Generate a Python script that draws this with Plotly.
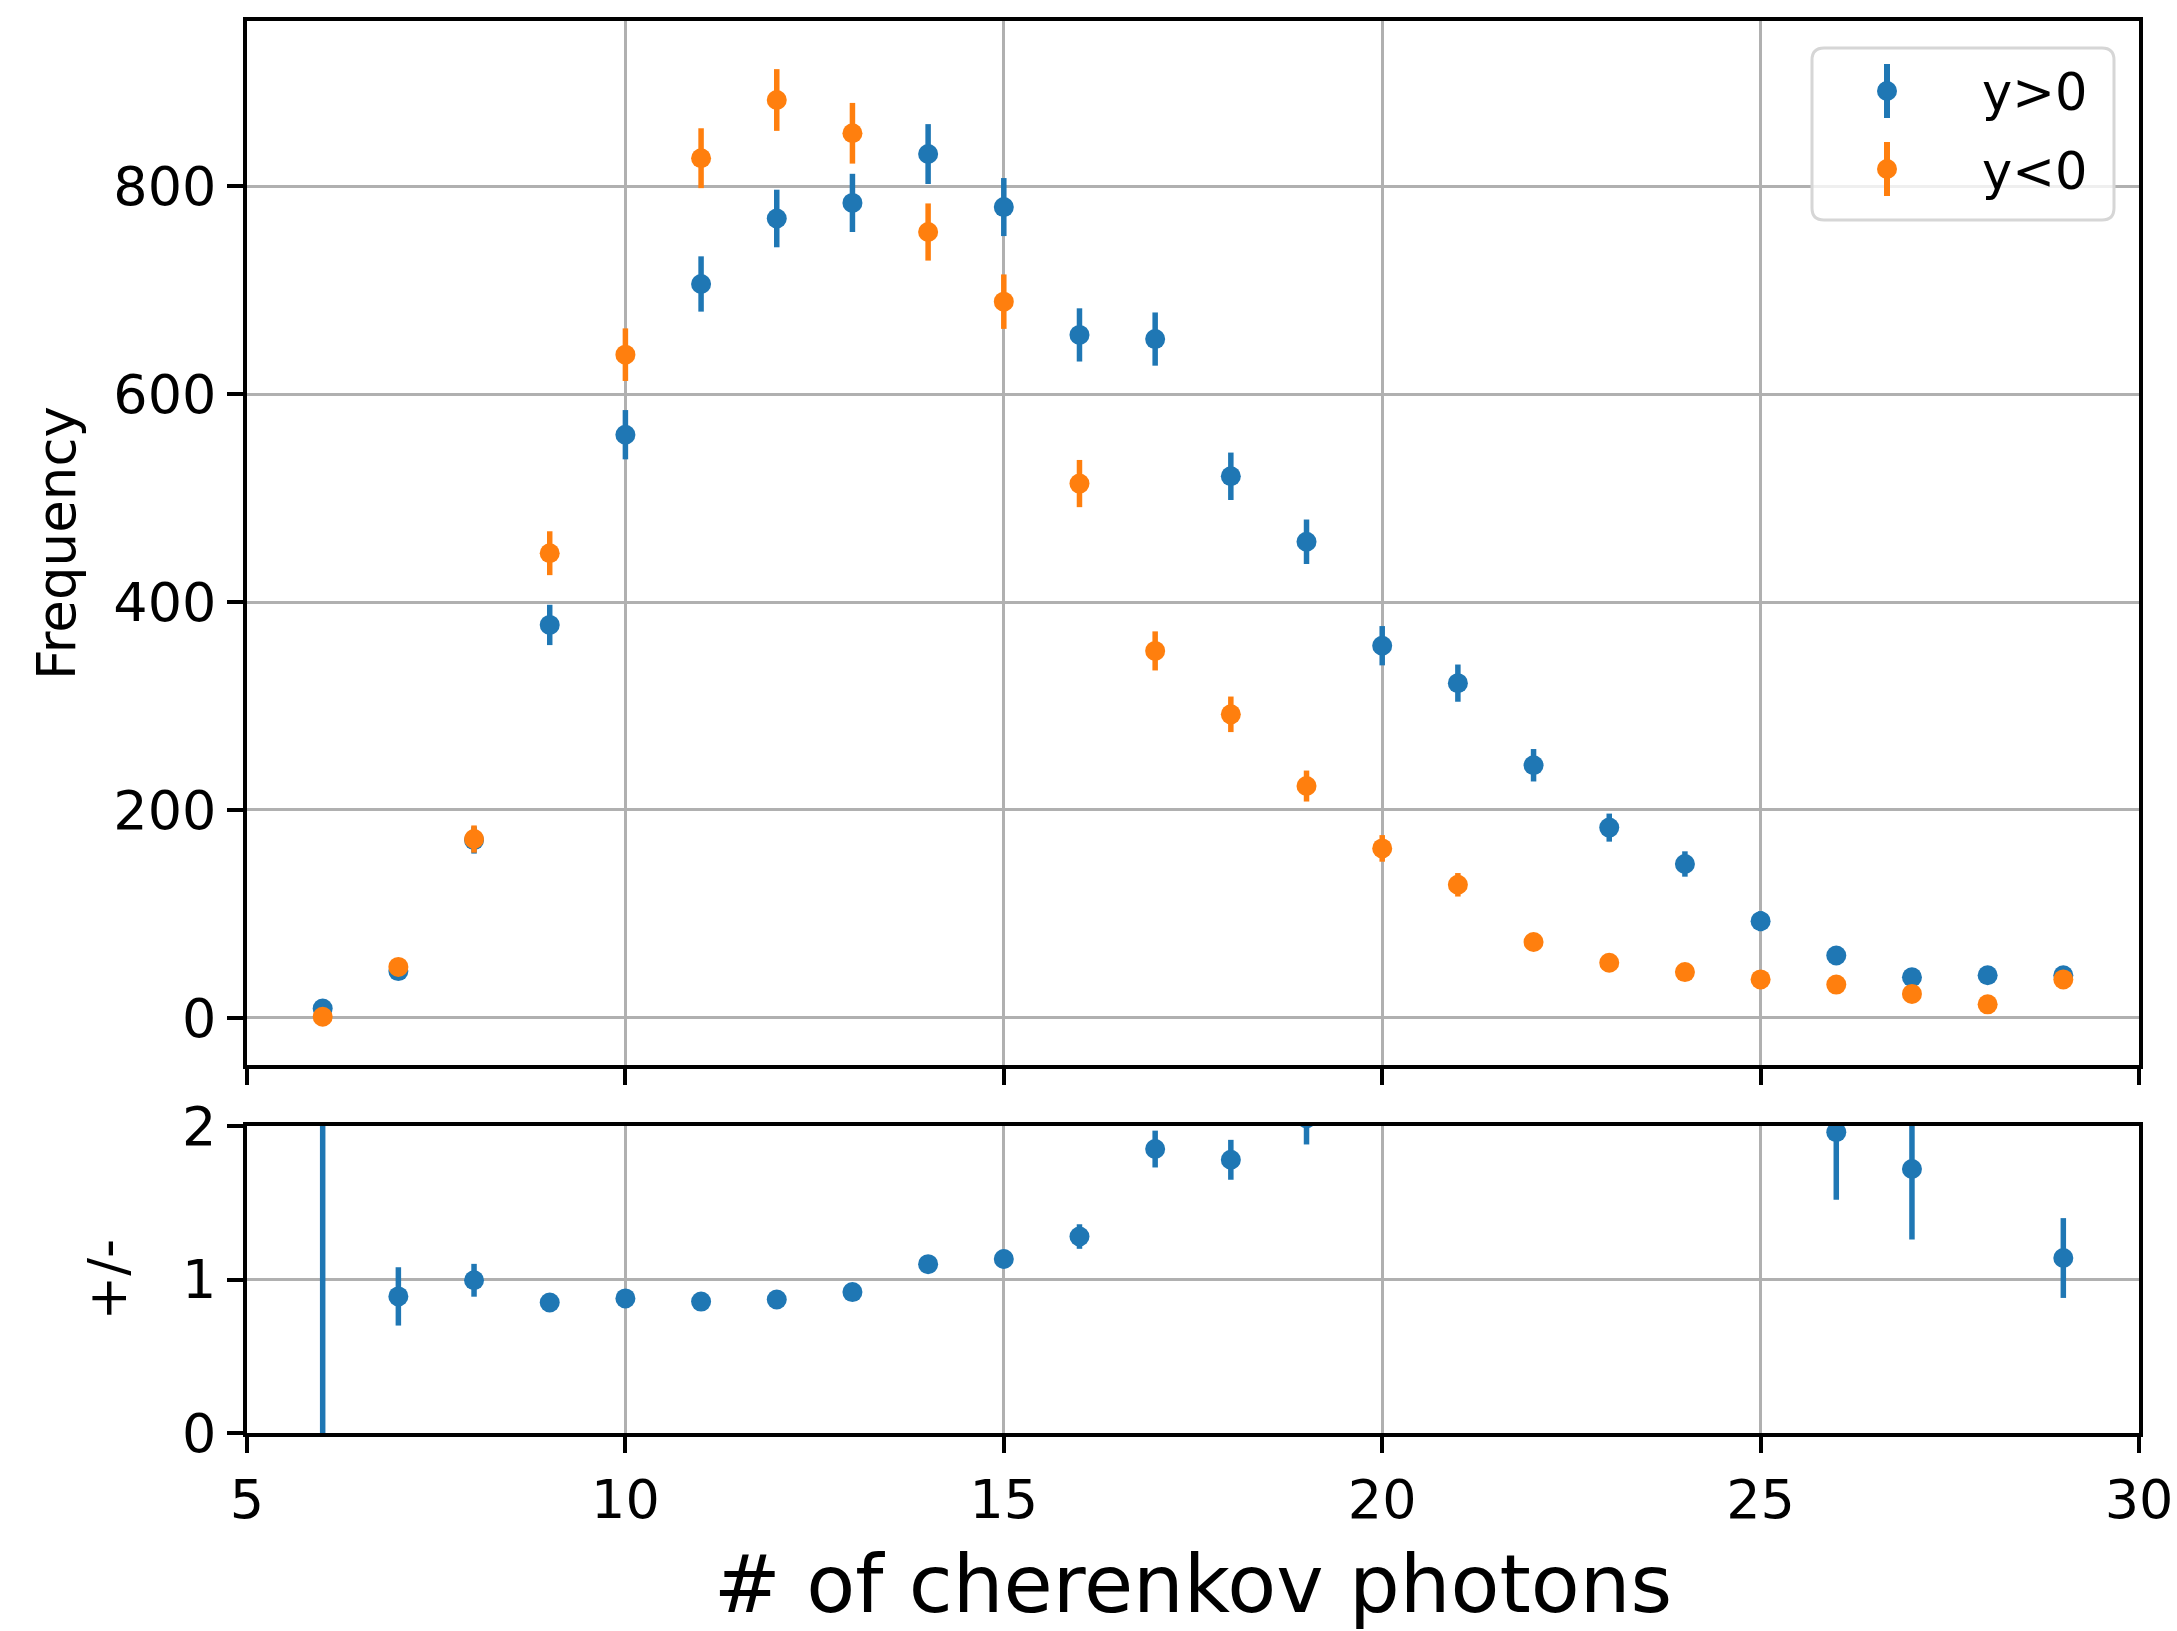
import plotly.graph_objects as go

# ---- data ----
n_photons = [6, 7, 8, 9, 10, 11, 12, 13, 14, 15, 16, 17, 18, 19, 20, 21, 22, 23, 24, 25, 26, 27, 28, 29]

freq_pos = [9, 45, 171, 378, 561, 706, 769, 784, 831, 780, 657, 653, 521, 458, 358, 322, 243, 183, 148, 93, 60, 39, 41, 41]
err_pos = [3, 6.7, 13, 19.4, 23.7, 26.6, 27.7, 28, 28.8, 27.9, 25.6, 25.6, 22.8, 21.4, 18.9, 17.9, 15.6, 13.5, 12.2, 9.6, 7.7, 6.2, 6.4, 6.4]

freq_neg = [1, 49, 172, 447, 638, 827, 883, 851, 756, 689, 514, 353, 292, 223, 163, 128, 73, 53, 44, 37, 32, 23, 13, 37]
err_neg = [1, 7, 13.1, 21.1, 25.3, 28.8, 29.7, 29.2, 27.5, 26.2, 22.7, 18.8, 17.1, 14.9, 12.8, 11.3, 8.5, 7.3, 6.6, 6.1, 5.7, 4.8, 3.6, 6.1]

ratio = [9.0, 0.89, 0.995, 0.85, 0.877, 0.856, 0.87, 0.918, 1.10, 1.134, 1.28, 1.85, 1.78, 2.05, 2.2, 2.5, 3.3, 3.45, 3.4, 2.5, 1.96, 1.72, 3.15, 1.14]
ratio_err = [9.5, 0.19, 0.107, 0.05, 0.05, 0.04, 0.04, 0.04, 0.05, 0.06, 0.08, 0.12, 0.13, 0.17, 0.20, 0.26, 0.43, 0.54, 0.58, 0.45, 0.44, 0.46, 1.0, 0.26]

labels = ["y>0", "y<0"]
x_ticks = [5, 10, 15, 20, 25, 30]
freq_ticks = [0, 200, 400, 600, 800]
ratio_ticks = [0, 1, 2]

BLUE = "#1f77b4"
ORANGE = "#ff7f0e"
FONT = "DejaVu Sans"

# figure geometry (pixels)
W, H = 2177, 1631
L, R, T, B = 247, 38, 21, 198
PW, PH = W - L - R, H - T - B

def px_x(p):  # pixel -> paper x
    return (p - L) / PW

def px_y(p):  # pixel -> paper y
    return (H - B - p) / PH

fig = go.Figure()

def err(vals, color):
    return dict(type="data", array=vals, visible=True, color=color, thickness=5.5, width=0)

fig.add_trace(go.Scatter(x=n_photons, y=freq_pos, mode="markers", name=labels[0], legendgroup="a",
                         marker=dict(color=BLUE, size=20), error_y=err(err_pos, BLUE),
                         xaxis="x", yaxis="y"))
fig.add_trace(go.Scatter(x=n_photons, y=freq_neg, mode="markers", name=labels[1], legendgroup="b",
                         marker=dict(color=ORANGE, size=20), error_y=err(err_neg, ORANGE),
                         xaxis="x", yaxis="y"))
fig.add_trace(go.Scatter(x=n_photons, y=ratio, mode="markers", showlegend=False,
                         marker=dict(color=BLUE, size=20), error_y=err(ratio_err, BLUE),
                         xaxis="x2", yaxis="y2", cliponaxis=True))

axis_common = dict(showline=True, linecolor="black", linewidth=3.5, mirror=True,
                   ticks="outside", ticklen=16, tickwidth=3.5, tickcolor="black",
                   showgrid=True, gridcolor="#b0b0b0", gridwidth=2.7, zeroline=False,
                   automargin=False,
                   tickfont=dict(family=FONT, size=54, color="black"))

# legend frame (rounded) and legend symbol decorations
bx0, bx1, by0, by1, rad = 1812, 2114, 48, 220, 12
X = px_x
Y = px_y
frame_path = (
    f"M {X(bx0 + rad)},{Y(by0)} L {X(bx1 - rad)},{Y(by0)} "
    f"Q {X(bx1)},{Y(by0)} {X(bx1)},{Y(by0 + rad)} "
    f"L {X(bx1)},{Y(by1 - rad)} Q {X(bx1)},{Y(by1)} {X(bx1 - rad)},{Y(by1)} "
    f"L {X(bx0 + rad)},{Y(by1)} Q {X(bx0)},{Y(by1)} {X(bx0)},{Y(by1 - rad)} "
    f"L {X(bx0)},{Y(by0 + rad)} Q {X(bx0)},{Y(by0)} {X(bx0 + rad)},{Y(by0)} Z"
)
shapes = [
    dict(type="path", xref="paper", yref="paper", path=frame_path,
         fillcolor="rgba(255,255,255,0.8)", line=dict(color="#d6d6d6", width=3), layer="above"),
]
for cy, col in [(91, BLUE), (169, ORANGE)]:
    shapes.append(dict(type="line", xref="paper", yref="paper",
                       x0=X(1887), x1=X(1887), y0=Y(cy - 27), y1=Y(cy + 27),
                       line=dict(color=col, width=6), layer="above"))
    shapes.append(dict(type="circle", xref="paper", yref="paper",
                       xsizemode="pixel", ysizemode="pixel",
                       xanchor=X(1887), yanchor=Y(cy),
                       x0=-10, x1=10, y0=-10, y1=10,
                       fillcolor=col, line=dict(width=0), layer="above"))

fig.update_layout(
    width=W, height=H,
    margin=dict(l=L, r=R, t=T, b=B),
    paper_bgcolor="white", plot_bgcolor="white",
    font=dict(family=FONT, color="black"),
    xaxis=dict(domain=[0, 1], range=[5, 30], tickvals=x_ticks, showticklabels=False,
               anchor="y", **axis_common),
    yaxis=dict(domain=[0.2606, 1], range=[-45.4, 959], tickvals=freq_ticks,
               title=dict(text="Frequency", font=dict(family=FONT, size=53), standoff=22),
               anchor="x", **axis_common),
    xaxis2=dict(domain=[0, 1], range=[5, 30], tickvals=x_ticks, anchor="y2",
                title=dict(text="# of cherenkov photons", font=dict(family=FONT, size=80), standoff=30),
                **axis_common),
    yaxis2=dict(domain=[0, 0.2174], range=[0, 2], tickvals=ratio_ticks,
                title=dict(text="+/-", font=dict(family=FONT, size=53), standoff=40),
                anchor="x2", **axis_common),
    legend=dict(x=px_x(1790), y=px_y(50), xanchor="left", yanchor="top",
                bgcolor="rgba(0,0,0,0)", borderwidth=0, traceorder="grouped", tracegroupgap=10,
                font=dict(family=FONT, size=51, color="black"), itemwidth=182),
    shapes=shapes,
)

fig.write_html("out.html")
